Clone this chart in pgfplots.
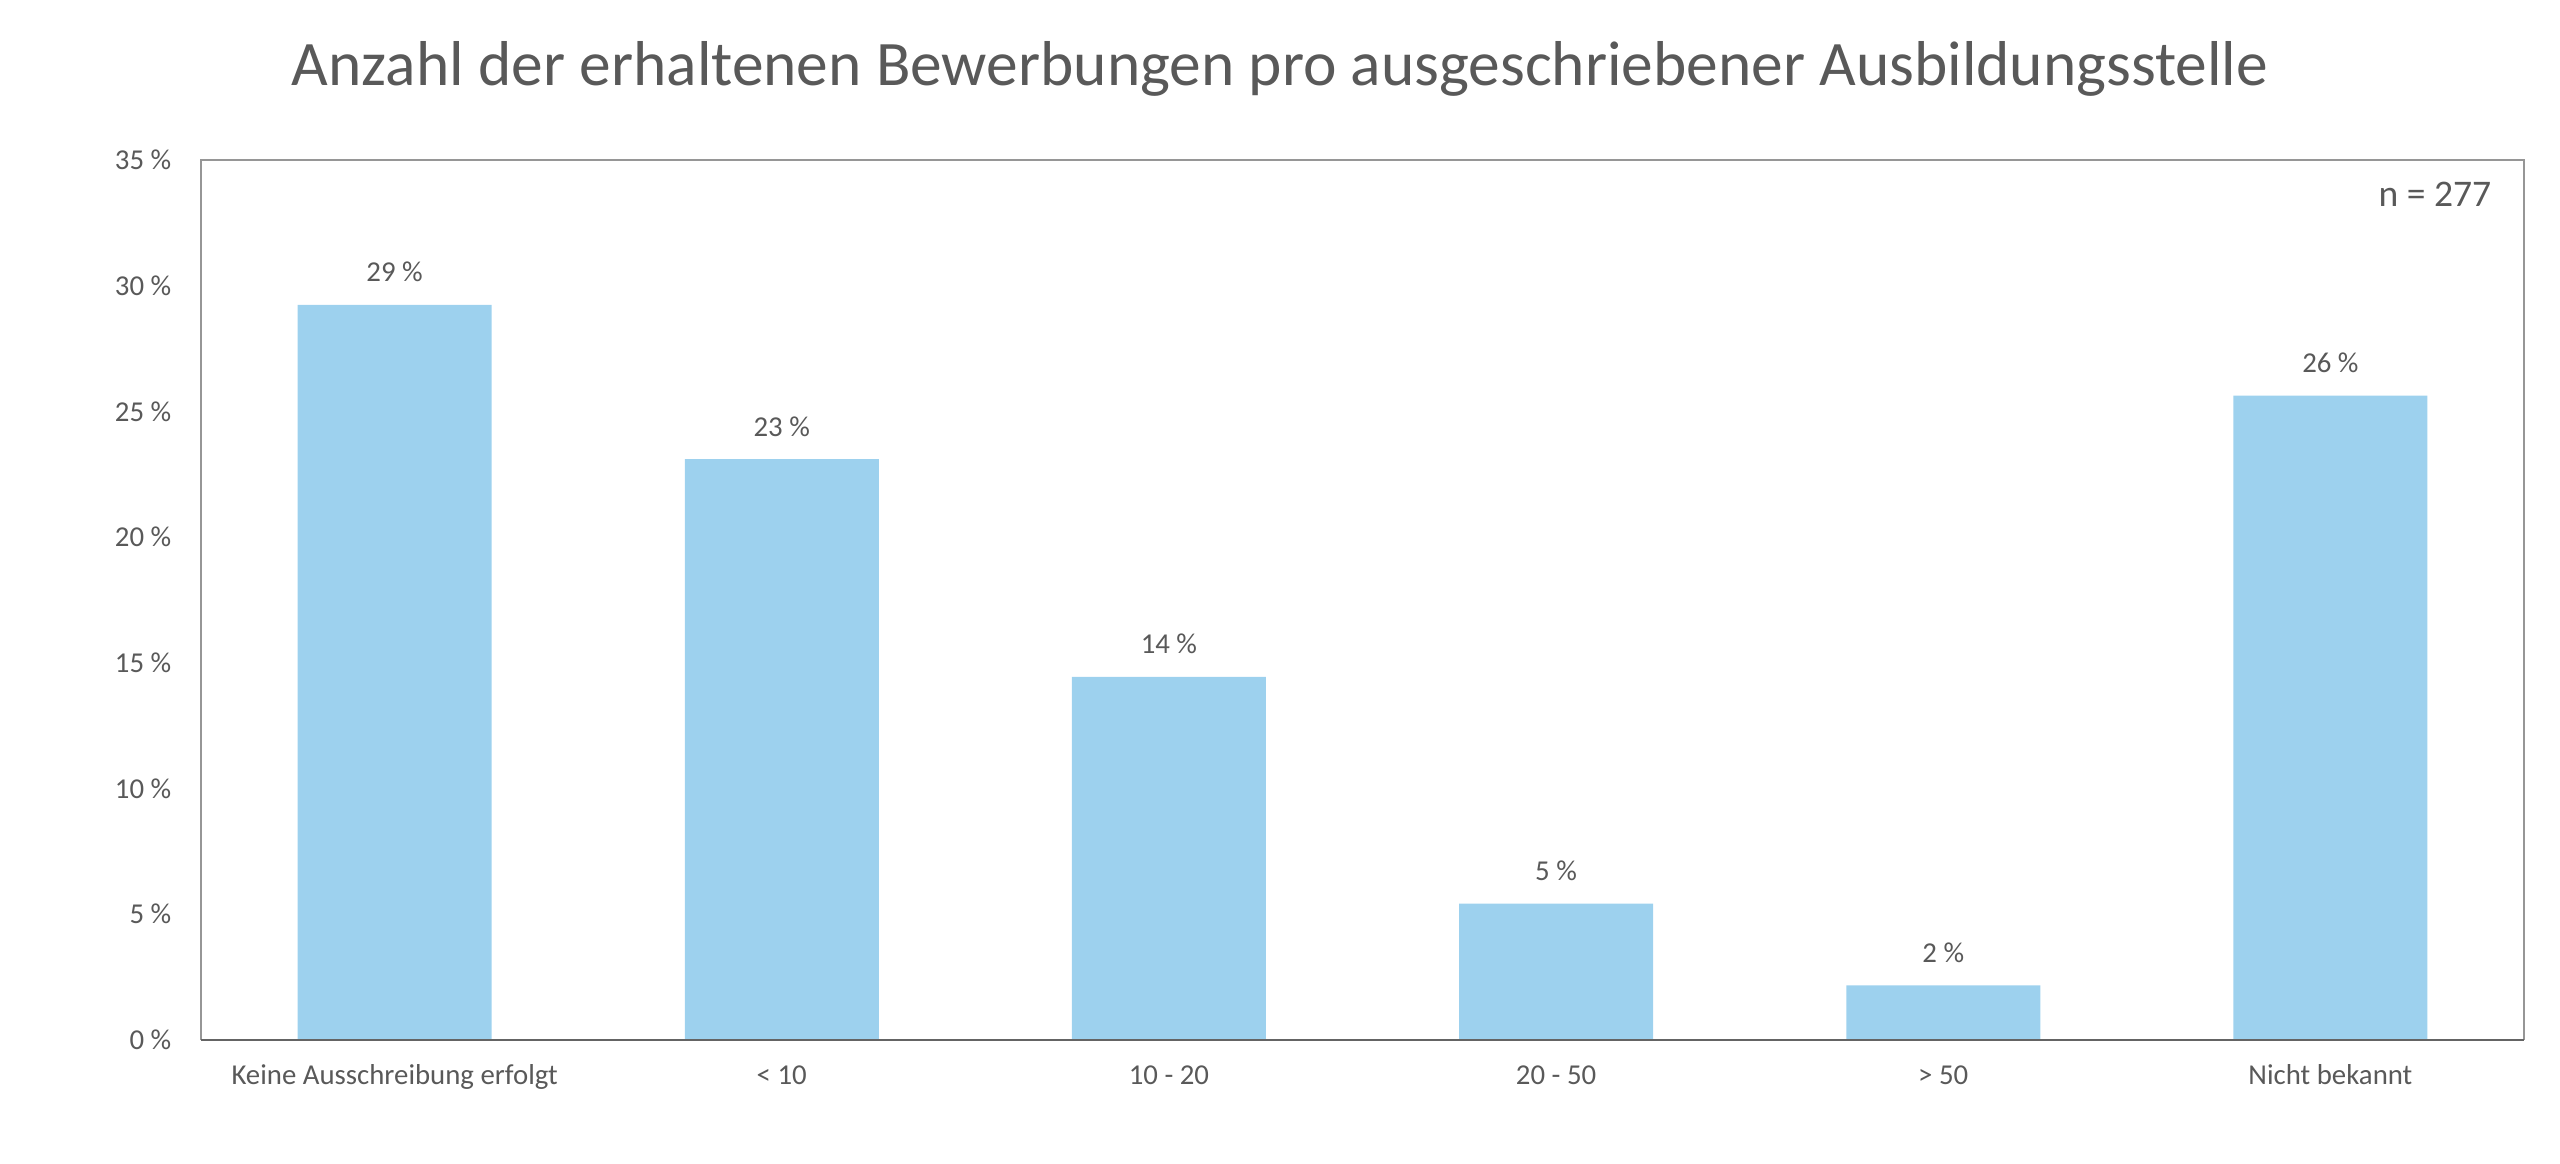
\documentclass[border=0pt]{standalone}
\usepackage{fontspec}
\setmainfont{Carlito}
\usepackage{pgfplots}
\pgfplotsset{compat=1.18}
\definecolor{barblue}{RGB}{157,209,238}
\definecolor{txt}{RGB}{89,89,89}
\definecolor{frame}{RGB}{150,150,150}
\definecolor{baseline}{RGB}{100,100,100}
\begin{document}
\begin{tikzpicture}
\path[use as bounding box] (0,0) rectangle (640pt,291pt);
\node[anchor=base, text=txt, font=\fontsize{15.85}{18}\selectfont, inner sep=0pt] at (320pt,269.5pt) {Anzahl der erhaltenen Bewerbungen pro ausgeschriebener Ausbildungsstelle};
\begin{axis}[
  at={(50.25pt,31pt)}, anchor=south west,
  width=580.75pt, height=220pt, scale only axis,
  xmin=-0.5, xmax=5.5, ymin=0, ymax=35,
  axis line style={draw=frame, line width=0.5pt},
  axis x line*=bottom,
  xtick={0,1,2,3,4,5},
  xticklabels={Keine Ausschreibung erfolgt, {< 10}, {10 - 20}, {20 - 50}, {> 50}, Nicht bekannt},
  ytick={0,5,10,15,20,25,30,35},
  yticklabels={0 \%,5 \%,10 \%,15 \%,20 \%,25 \%,30 \%,35 \%},
  major tick length=0pt,
  tick style={draw=none},
  xticklabel style={anchor=base, inner sep=0pt, yshift=-11.25pt, text=txt, font=\fontsize{7.2}{8.5}\selectfont},
  yticklabel style={anchor=east, inner sep=0pt, xshift=-7.25pt, text=txt, font=\fontsize{7.2}{8.5}\selectfont},
  ybar, bar width=48.5pt,
  nodes near coords={\pgfmathprintnumber[fixed,precision=0,assume math mode=true]{\pgfplotspointmeta}~\%},
  every node near coord/.append style={anchor=south, inner sep=0pt, yshift=5.5pt, text=txt, font=\fontsize{7.2}{8.5}\selectfont},
  clip=false,
]
\draw[draw=frame, line width=0.5pt] (axis cs:-0.5,0) -- (axis cs:-0.5,35) -- (axis cs:5.5,35) -- (axis cs:5.5,0);
\addplot[fill=barblue, draw=none] coordinates {(0,29.24) (1,23.10) (2,14.44) (3,5.42) (4,2.17) (5,25.63)};
\draw[draw=baseline, line width=0.6pt] (axis cs:-0.5,0) -- (axis cs:5.5,0);
\end{axis}
\node[anchor=base east, inner sep=0pt, text=txt, font=\fontsize{9.4}{11}\selectfont] at (623pt,239.25pt) {n = 277};
\end{tikzpicture}
\end{document}
